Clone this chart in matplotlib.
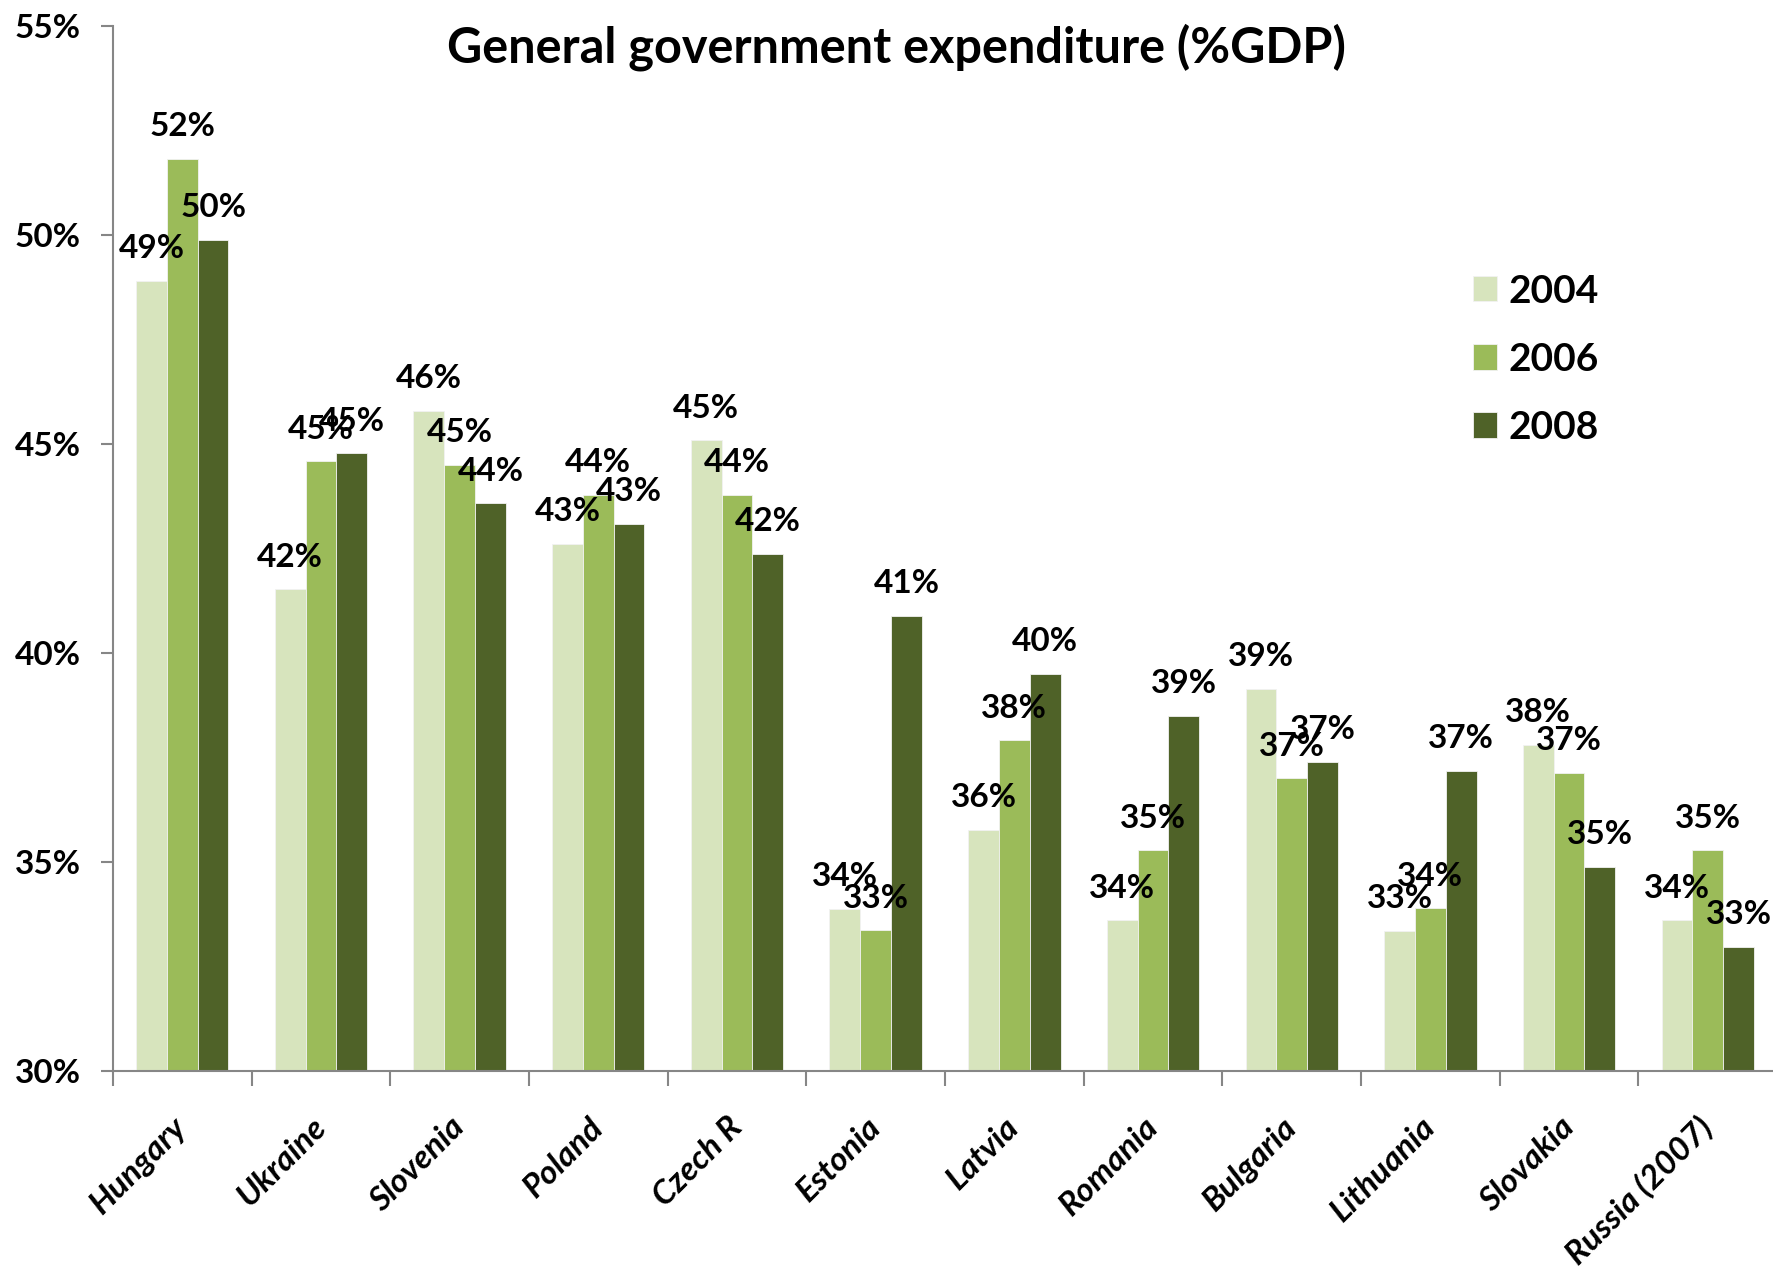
import numpy as np
import matplotlib
matplotlib.use("Agg")
import matplotlib.pyplot as plt
from matplotlib.transforms import ScaledTranslation

countries = ["Hungary", "Ukraine", "Slovenia", "Poland", "Czech R", "Estonia",
             "Latvia", "Romania", "Bulgaria", "Lithuania", "Slovakia", "Russia (2007)"]
years = ["2004", "2006", "2008"]
exp_2004 = [48.91, 41.52, 45.79, 42.61, 45.09, 33.88, 35.77, 33.61, 39.14, 33.35, 37.80, 33.61]
exp_2006 = [51.83, 44.59, 44.50, 43.78, 43.78, 33.37, 37.91, 35.28, 37.00, 33.89, 37.14, 35.28]
exp_2008 = [49.89, 44.78, 43.58, 43.09, 42.38, 40.89, 39.50, 38.50, 37.39, 37.18, 34.89, 32.97]
colors = ["#D7E4BD", "#9BBB59", "#4F6228"]

plt.rcParams['font.family'] = ['Lato', 'DejaVu Sans']
plt.rcParams['font.weight'] = 'bold'

fig = plt.figure(figsize=(17.73, 12.74), dpi=100, facecolor='white')
ax = fig.add_axes([0.0637, 0.1593, 0.9386, 0.8203])

x = np.arange(len(countries))
w = 0.222
for i, vals in enumerate([exp_2004, exp_2006, exp_2008]):
    ax.bar(x + (i - 1) * w, vals, width=w, bottom=0, color=colors[i],
           edgecolor='#F2F2F2', linewidth=0.6, label=years[i], zorder=2)
    # value labels above each bar
    for xi, v in zip(x + (i - 1) * w, vals):
        ax.annotate("%d%%" % int(v + 0.5), (xi, v), xytext=(0, 16.3),
                    textcoords='offset points', ha='center', va='baseline',
                    fontsize=24, fontweight='bold', color='black', zorder=5)

ax.set_ylim(30, 55)
ax.set_xlim(-0.5, len(countries) - 0.5)
ax.set_yticks([30, 35, 40, 45, 50, 55])
ax.set_yticklabels(["30%", "35%", "40%", "45%", "50%", "55%"], fontsize=24, fontweight='bold')

# category ticks sit on the group boundaries
ax.set_xticks(np.arange(len(countries) + 1) - 0.5, minor=False)
ax.set_xticklabels([])
ax.set_xticks(x, minor=True)
ax.set_xticklabels(countries, minor=True, fontsize=24, fontweight='bold', style='italic',
                   rotation=45, ha='right', va='center', rotation_mode='anchor')
shift = ScaledTranslation(0.09, 0, fig.dpi_scale_trans)
for lab in ax.get_xticklabels(minor=True):
    lab.set_transform(lab.get_transform() + shift)
ax.tick_params(axis='x', which='minor', length=0, pad=37)
ax.tick_params(axis='x', which='major', length=11, width=1.5, color='#868686', direction='out')
ax.tick_params(axis='y', length=9, width=1.5, color='#868686', direction='out', pad=14)

for s in ['top', 'right']:
    ax.spines[s].set_visible(False)
for s in ['left', 'bottom']:
    ax.spines[s].set_color('#868686')
    ax.spines[s].set_linewidth(1.5)

fig.text(0.5055, 0.963, "General government expenditure (%GDP)", ha='center', va='center',
         fontsize=35, fontweight='bold')

leg = ax.legend(loc='upper left', bbox_to_anchor=(0.808, 0.778), frameon=False,
                fontsize=28, handlelength=0.62, handleheight=0.62,
                handletextpad=0.3, labelspacing=0.85, borderaxespad=0)
for t in leg.get_texts():
    t.set_fontweight('bold')

fig.savefig("out.png", dpi=100, facecolor='white')
